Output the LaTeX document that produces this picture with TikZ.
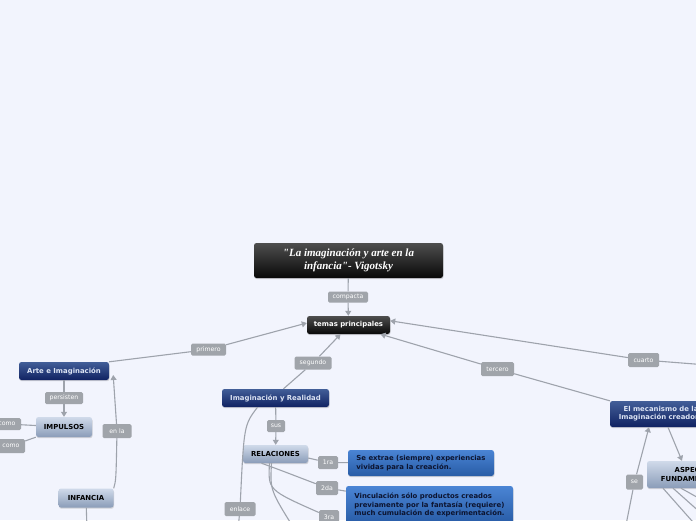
\documentclass[tikz,border=0pt]{standalone}
\usepackage{fontspec}
\setmainfont{DejaVu Sans}
\newfontfamily\titlefont{Liberation Serif}
\usetikzlibrary{arrows.meta, shadows}
\definecolor{mapbg}{RGB}{242,244,253}
\definecolor{linkgray}{RGB}{158,163,172}
\definecolor{taggray}{RGB}{160,164,170}
\definecolor{navytop}{RGB}{66,94,152}
\definecolor{navybot}{RGB}{16,34,98}
\definecolor{navytext}{RGB}{220,228,244}
\definecolor{paletop}{RGB}{208,218,234}
\definecolor{palebot}{RGB}{138,156,184}
\definecolor{bluetop}{RGB}{74,132,212}
\definecolor{bluebot}{RGB}{40,92,166}
\definecolor{bluetext}{RGB}{12,20,48}
\definecolor{inktop}{RGB}{78,78,78}
\definecolor{inkbot}{RGB}{8,8,8}

\begin{document}
\begin{tikzpicture}[x=1pt, y=-1pt,
    boxbase/.style={rectangle, rounded corners=2.5pt, draw=none, align=center, inner sep=2pt, drop shadow={shadow xshift=0.5pt, shadow yshift=-1.2pt, opacity=.3}},
    inkbox/.style={boxbase, top color=inktop, bottom color=inkbot, text=white, font=\fontsize{6.9}{8.2}\selectfont\bfseries},
    navybox/.style={boxbase, top color=navytop, bottom color=navybot, text=navytext, font=\fontsize{6.9}{8.2}\selectfont\bfseries},
    palebox/.style={boxbase, top color=paletop, bottom color=palebot, text=black, font=\fontsize{6.9}{8.2}\selectfont\bfseries},
    notebox/.style={boxbase, top color=bluetop, bottom color=bluebot, text=bluetext, align=left, font=\fontsize{6.9}{8.2}\selectfont\bfseries},
    tag/.style={rectangle, rounded corners=1.5pt, fill=taggray, text=white, inner sep=1pt, font=\fontsize{6.2}{7}\selectfont},
    link/.style={draw=linkgray, line width=1.1pt},
    linkarrow/.style={link, -{Triangle[length=5pt, width=6pt]}}
]
\fill[mapbg] (0,0) rectangle (696,520);
\useasboundingbox (0,0) rectangle (696,520);
\clip (0,0) rectangle (696,520);

% centre
\node[inkbox, minimum width=189pt, minimum height=35pt, font=\fontsize{11}{12.5}\selectfont\titlefont\bfseries\itshape] (title) at (348.5,260.5) {"La imaginación y arte en la\\infancia"- Vigotsky};
\node[tag, minimum width=40pt, minimum height=11pt] (compacta) at (348,297) {compacta};
\node[inkbox, minimum width=83pt, minimum height=18pt] (temas) at (348.5,325) {temas principales};

% primero
\node[tag, minimum width=35pt, minimum height=12pt] (primero) at (208.5,349.5) {primero};
\node[navybox, minimum width=90pt, minimum height=18pt] (arte) at (64,371) {Arte e Imaginación};
\node[tag, minimum width=38pt, minimum height=12pt] (persisten) at (64,398) {persisten};
\node[palebox, minimum width=56pt, minimum height=20pt] (impulsos) at (64,427) {IMPULSOS};
\node[tag, minimum width=28pt, minimum height=12pt] (comoA) at (7,424) {como};
\node[tag, minimum width=28pt, minimum height=14pt] (comoB) at (11,446) {como};
\node[tag, minimum width=29pt, minimum height=14pt] (enla) at (117,431) {en la};
\node[palebox, minimum width=55pt, minimum height=19pt] (infancia) at (86,498) {INFANCIA};
\coordinate (infdown) at (87,530);

% segundo
\node[tag, minimum width=37pt, minimum height=13pt] (segundo) at (313,363) {segundo};
\node[navybox, minimum width=107pt, minimum height=18pt] (imreal) at (275.5,398) {Imaginación y Realidad};
\node[tag, minimum width=18pt, minimum height=12pt] (sus) at (276,426) {sus};
\node[palebox, minimum width=65pt, minimum height=18pt] (relac) at (275.5,454) {RELACIONES};
\node[tag, minimum width=20pt, minimum height=13pt] (ra1) at (328,462.5) {1ra};
\node[notebox, minimum width=146pt, minimum height=26pt] (nota1) at (421,463) {Se extrae (siempre) experiencias\\vividas para la creación.};
\node[tag, minimum width=22pt, minimum height=14pt] (da2) at (327,488) {2da};
\node[notebox, minimum width=167pt, minimum height=38pt] (nota2) at (429.5,505) {Vinculación sólo productos creados\\previamente por la fantasía (requiere)\\much cumulación de experimentación.};
\node[tag, minimum width=20pt, minimum height=14pt] (ra3) at (329,517) {3ra};
\node[tag, minimum width=31pt, minimum height=14pt] (enlace) at (240,509) {enlace};
\coordinate (enldown) at (238,530);
\coordinate (reldown) at (295,530);

% tercero y cuarto
\node[tag, minimum width=33pt, minimum height=14pt] (tercero) at (497.5,369) {tercero};
\node[navybox, minimum width=102pt, minimum height=26pt] (mecan) at (661,414) {El mecanismo de la\\Imaginación creadora};
\node[tag, minimum width=31pt, minimum height=14pt] (cuarto) at (643.5,360) {cuarto};
\coordinate (cuartoend) at (720,366);
\node[palebox, minimum width=96pt, minimum height=27pt] (aspectos) at (695,474.5) {ASPECTOS\\FUNDAMENTALES};
\node[tag, minimum width=17pt, minimum height=15pt] (se) at (634.5,482) {se};
\coordinate (sedown) at (625,530);
\coordinate (aspA) at (700,530);
\coordinate (aspB) at (720,530);
\coordinate (aspC) at (720,510);

% connectors
\draw[link] (title) -- (compacta);
\draw[linkarrow] (compacta) -- (temas);
\draw[link] (arte.north east) -- (primero);
\draw[linkarrow] (primero) -- ([yshift=2pt]temas.west);
\draw[link] (imreal.north) ++(8,0) -- (segundo);
\draw[linkarrow] (segundo) -- ([xshift=-8pt]temas.south);
\draw[link] (mecan.north west) -- (tercero);
\draw[linkarrow] (tercero) -- ([xshift=32pt]temas.south);
\draw[link] (cuartoend) -- (cuarto);
\draw[linkarrow] (cuarto) -- ([yshift=-5pt]temas.north east);

\draw[link] (arte) -- (persisten);
\draw[linkarrow] (persisten) -- (impulsos);
\draw[link] (impulsos) -- (comoA);
\draw[link] (impulsos.south west) -- (comoB);
\draw[link] (infancia.north east) .. controls (116,480) .. (enla);
\draw[linkarrow] (enla) -- ([xshift=4pt,yshift=-4pt]arte.east);
\draw[link] (infancia) -- (infdown);

\draw[link] (imreal) -- (sus);
\draw[linkarrow] (sus) -- (relac);
\draw[link] (relac.east) ++(0,4) -- (ra1);
\draw[link] (ra1) -- (nota1);
\draw[link] ([xshift=-14pt]relac.south) .. controls (280,470) .. (da2);
\draw[link] (da2) -- (nota2);
\draw[link] ([xshift=-6pt]relac.south) .. controls (268,490) .. (ra3);
\draw[link] ([xshift=-4pt]relac.south) .. controls (270,490) .. (reldown);
\draw[link] ([xshift=-18pt]imreal.south) .. controls (244,425) .. (enlace);
\draw[link] (enlace) -- (enldown);

\draw[linkarrow] ([xshift=7pt]mecan.south) -- ([xshift=-13pt]aspectos.north);
\draw[link] (sedown) -- (se);
\draw[linkarrow] (se) -- ([xshift=-12pt]mecan.south);
\draw[link] ([xshift=-32pt]aspectos.south) -- (aspA);
\draw[link] ([xshift=-22pt]aspectos.south) -- (aspB);
\draw[link] ([xshift=-14pt]aspectos.south) -- (aspC);
\end{tikzpicture}
\end{document}
